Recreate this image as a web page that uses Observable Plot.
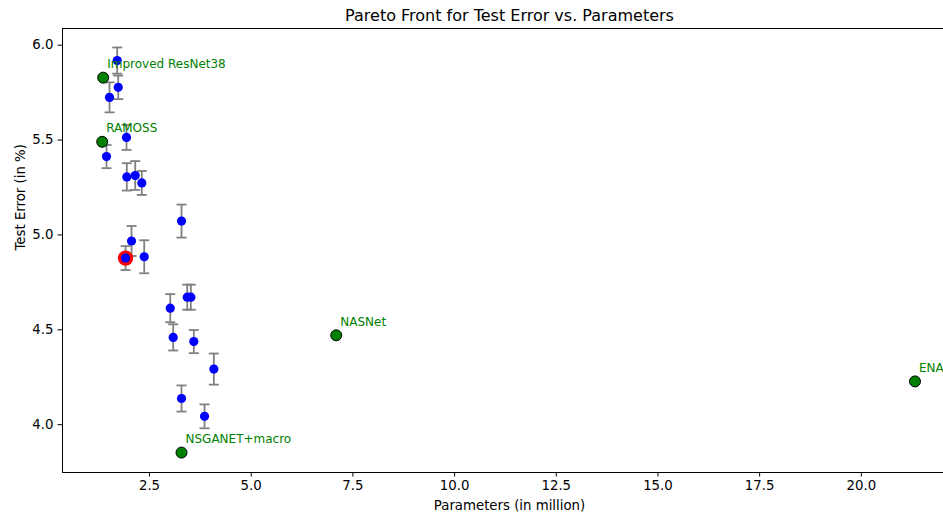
<!DOCTYPE html>
<html>
<head>
<meta charset="utf-8">
<script src="https://cdn.jsdelivr.net/npm/d3@7"></script>
<script src="https://cdn.jsdelivr.net/npm/@observablehq/plot@0.6"></script>
<style>
  html, body { margin: 0; padding: 0; background: white; }
  #wrap { width: 943px; height: 515px; overflow: hidden; }
  #wrap svg { max-width: none !important; }
</style>
</head>
<body>
<div id="wrap"></div>
<script>
// Candidate architectures (blue, with error bars)
const params = [1.706, 1.731, 1.517, 1.935, 1.443, 1.942, 2.149, 2.311, 3.287, 2.058,
                1.911, 2.370, 3.010, 3.428, 3.516, 3.083, 3.590, 4.082, 3.287, 3.853];
const testErrors = [5.919, 5.778, 5.725, 5.514, 5.413, 5.306, 5.313, 5.274, 5.073, 4.968,
                    4.878, 4.885, 4.614, 4.672, 4.672, 4.460, 4.438, 4.293, 4.138, 4.044];
const errorStd = [0.069, 0.062, 0.079, 0.066, 0.061, 0.072, 0.076, 0.063, 0.087, 0.079,
                  0.063, 0.087, 0.074, 0.066, 0.066, 0.069, 0.061, 0.082, 0.069, 0.063];
const highlightIndex = 10;

// Reference models (green)
const refNames = ["Improved ResNet38", "RAMOSS", "NSGANET+macro", "NASNet", "ENAS"];
const refParams = [1.362, 1.337, 3.287, 7.091, 21.32];
const refErrors = [5.829, 5.491, 3.853, 4.471, 4.228];

const xTicks = [2.5, 5.0, 7.5, 10.0, 12.5, 15.0, 17.5, 20.0];
const yTicks = [4.0, 4.5, 5.0, 5.5, 6.0];

const titleText = "Pareto Front for Test Error vs. Parameters";
const xLabel = "Parameters (in million)";
const yLabel = "Test Error (in %)";

const pts = params.map((x, i) => ({x, y: testErrors[i], e: errorStd[i]}));
const caps = pts.flatMap(d => [{x: d.x, y: d.y - d.e}, {x: d.x, y: d.y + d.e}]);
const refs = refNames.map((name, i) => ({name, x: refParams[i], y: refErrors[i]}));

const capSymbol = {
  draw(context, size) {
    const w = Math.sqrt(size / Math.PI);
    context.moveTo(-w, 0);
    context.lineTo(w, 0);
  }
};

const chart = Plot.plot({
  width: 956,
  height: 515,
  marginLeft: 62,
  marginRight: 0,
  marginTop: 28,
  marginBottom: 43,
  x: {domain: [0.361, 22.34]},
  y: {domain: [3.748, 6.088]},
  style: {fontFamily: "DejaVu Sans", background: "white", color: "black", maxWidth: "none"},
  marks: [
    Plot.ruleX(pts, {x: "x", y1: d => d.y - d.e, y2: d => d.y + d.e, stroke: "#808080", strokeWidth: 1.8}),
    Plot.dot(caps, {x: "x", y: "y", symbol: capSymbol, r: 5, stroke: "#808080", strokeWidth: 1.8, fill: "none"}),
    Plot.dot([pts[highlightIndex]], {x: "x", y: "y", r: 7.7, fill: "red"}),
    Plot.dot(pts, {x: "x", y: "y", r: 4.6, fill: "blue"}),
    Plot.dot(refs, {x: "x", y: "y", r: 5.5, fill: "green", stroke: "black", strokeWidth: 1}),
    Plot.text(refs, {x: "x", y: "y", text: "name", dx: 4, dy: -9.5, lineAnchor: "bottom", textAnchor: "start", fill: "green", fontSize: 12}),
    Plot.axisX({ticks: xTicks, tickFormat: ".1f", tickSize: 4.5, tickPadding: 4, fontSize: 13.3, label: null}),
    Plot.axisY({ticks: yTicks, tickFormat: ".1f", tickSize: 4.5, tickPadding: 4.5, fontSize: 13.3, label: null}),
    Plot.frame({stroke: "black"}),
    Plot.text([titleText], {frameAnchor: "top", dy: -13, lineAnchor: "middle", fontSize: 16}),
    Plot.text([xLabel], {frameAnchor: "bottom", dy: 33, lineAnchor: "middle", fontSize: 13.3}),
    Plot.text([yLabel], {frameAnchor: "left", dx: -42, rotate: -90, lineAnchor: "middle", fontSize: 13.3})
  ]
});
document.getElementById("wrap").appendChild(chart);
</script>
</body>
</html>
